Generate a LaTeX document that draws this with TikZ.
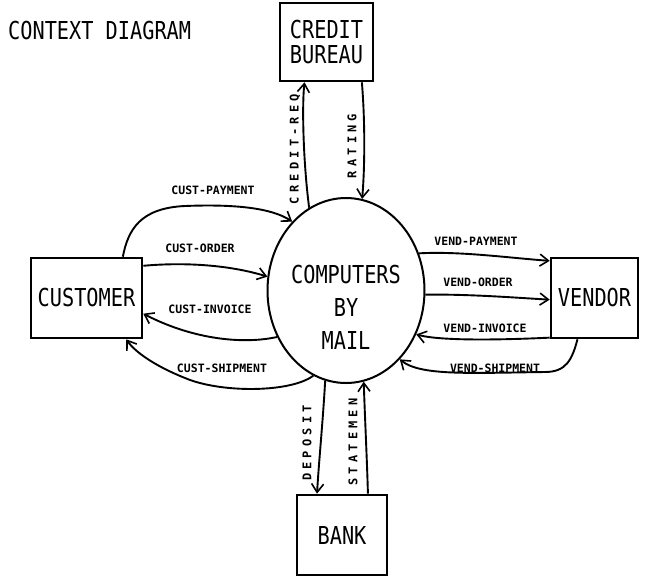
\documentclass[tikz,border=0pt]{standalone}
\usepackage{fontspec}
\setmainfont{DejaVu Sans Mono}[FakeStretch=0.82]
\newfontfamily\labf{DejaVu Sans Mono}
\newfontfamily\vlabf{DejaVu Sans Mono}[LetterSpace=35]
\usetikzlibrary{arrows.meta,calc,shapes.geometric}

\begin{document}
\begin{tikzpicture}[x=1pt,y=-1pt,
  box/.style={draw,line width=2.6pt,inner sep=0pt,align=center,font=\fontsize{24.7}{25}\selectfont},
  flow/.style={line width=1.9pt,-{Straight Barb[length=8.5pt,width=12pt,line width=1.6pt]}},
  lab/.style={font=\labf\bfseries\fontsize{11.5}{12}\selectfont,inner sep=0pt},
  vlab/.style={font=\vlabf\bfseries\fontsize{12}{12}\selectfont,inner sep=0pt,rotate=90},
  bigtext/.style={font=\fontsize{24.7}{33}\selectfont,align=center,inner sep=0pt}]
\useasboundingbox (0,0) rectangle (648,582);
\fill[white] (0,0) rectangle (648,582);

\node[anchor=west,font=\fontsize{24.7}{24}\selectfont,inner sep=0pt] (title) at (8,31) {CONTEXT DIAGRAM};

\node[box,minimum width=93pt,minimum height=78pt] (cb) at (326.5,42) {CREDIT\\BUREAU};
\node[box,minimum width=111pt,minimum height=80pt] (cust) at (86.5,298) {CUSTOMER};
\node[box,minimum width=87pt,minimum height=80pt] (vend) at (594.5,298) {VENDOR};
\node[box,minimum width=90pt,minimum height=80pt] (bank) at (342,535) {BANK};
\node[draw,ellipse,line width=2pt,minimum width=157pt,minimum height=185pt,inner sep=0pt] (cbm) at (346,290.5) {};
\node[bigtext] (cbmtext) at (346,307) {COMPUTERS\\BY\\MAIL};

\draw[flow] (cbm.114) .. controls (303,160) and (302,105) .. ($(cb.south west)!0.27!(cb.south east)$);
\draw[flow] ($(cb.south west)!0.87!(cb.south east)$) .. controls (365,120) and (365,165) .. (cbm.80);
\draw[flow] ($(cust.north west)!0.82!(cust.north east)$) .. controls (128,230) and (140,208) .. (185,206) .. controls (235,204) and (272,208) .. (cbm.128);
\draw[flow] ($(cust.north east)!0.11!(cust.south east)$) .. controls (185,262) and (230,265) .. (cbm.170);
\draw[flow] (cbm.214) .. controls (240,345) and (190,338) .. ($(cust.north east)!0.69!(cust.south east)$);
\draw[flow] (cbm.249) .. controls (290,393) and (220,393) .. (185,378) .. controls (155,366) and (135,352) .. ($(cust.south west)!0.85!(cust.south east)$);
\draw[flow] (cbm.27) .. controls (460,251) and (510,258) .. ($(vend.north west)!0.05!(vend.south west)$);
\draw[flow] (cbm.-3) .. controls (470,294) and (520,298) .. ($(vend.north west)!0.52!(vend.south west)$);
\draw[flow] ($(vend.north west)!0.98!(vend.south west)$) .. controls (500,340) and (440,341) .. (cbm.-32);
\draw[flow] ($(vend.south west)!0.31!(vend.south east)$) .. controls (572,360) and (566,372) .. (545,372) .. controls (470,373) and (420,376) .. (cbm.-52);
\draw[flow] (cbm.257) .. controls (323,420) and (319,460) .. ($(bank.north west)!0.23!(bank.north east)$);
\draw[flow] ($(bank.north west)!0.78!(bank.north east)$) .. controls (367,460) and (365,420) .. (cbm.281);

\node[lab] (lcp) at (213,190) {CUST-PAYMENT};
\node[lab] (lco) at (200,248) {CUST-ORDER};
\node[lab] (lci) at (210,309) {CUST-INVOICE};
\node[lab] (lcs) at (222,368) {CUST-SHIPMENT};
\node[lab] (lvp) at (476,241) {VEND-PAYMENT};
\node[lab] (lvo) at (478,282) {VEND-ORDER};
\node[lab] (lvi) at (485,328) {VEND-INVOICE};
\node[lab] (lvs) at (495,368) {VEND-SHIPMENT};
\node[vlab] (lcr) at (295,149) {CREDIT-REQ};
\node[vlab] (lr) at (352,146) {RATING};
\node[vlab] (ld) at (307,443) {DEPOSIT};
\node[vlab] (ls) at (353,442) {STATEMEN};
\end{tikzpicture}
\end{document}
